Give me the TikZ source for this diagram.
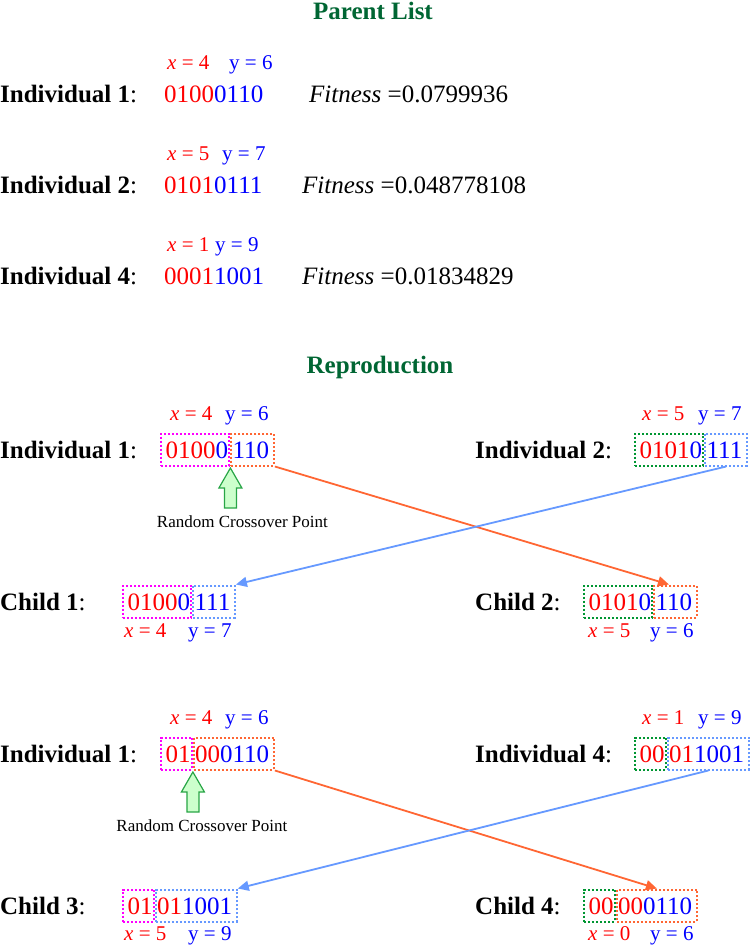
\documentclass[tikz,border=0pt]{standalone}
\usepackage{fontspec}
\setmainfont{Liberation Serif}
\usepackage{xcolor}
\usetikzlibrary{arrows.meta,positioning,calc}

\definecolor{xred}{RGB}{255,0,0}
\definecolor{xblue}{RGB}{0,0,255}
\definecolor{titlegreen}{RGB}{0,102,51}
\definecolor{cutmag}{RGB}{255,0,255}
\definecolor{cutorange}{RGB}{255,102,51}
\definecolor{cutblue}{RGB}{102,153,255}
\definecolor{cutgreen}{RGB}{0,150,50}
\definecolor{pointline}{RGB}{40,165,70}
\definecolor{pointfill}{RGB}{204,255,204}

\begin{document}
\begin{tikzpicture}[
    x=1pt, y=-1pt,
    word/.style={inner sep=0pt, anchor=base west, font=\fontsize{25}{30}\selectfont},
    val/.style={inner sep=0pt, anchor=base west, font=\fontsize{21}{25}\selectfont},
    heading/.style={inner sep=0pt, anchor=base, font=\fontsize{25}{30}\selectfont\bfseries, text=titlegreen},
    seg/.style={draw, dash pattern=on 2pt off 2pt, line width=2pt, inner xsep=1.2pt, inner ysep=7.5pt,
      text height=17pt, text depth=0pt, font=\fontsize{25}{30}\selectfont},
    lseg/.style={seg, execute at begin node={\kern3.5pt}},
    rseg/.style={seg, execute at end node={\kern3.5pt}},
    swap/.style={-{Triangle[length=11pt,width=10pt]}, line width=1.8pt},
    point/.style={draw=pointline, fill=pointfill, line width=1.2pt},
    note/.style={inner sep=0pt, anchor=base, font=\fontsize{17}{20}\selectfont}
  ]
    \useasboundingbox (0,0) rectangle (750,945);

    % parent list
    \node[heading] (plist) at (373,19) {Parent List};

    \node[val, text=xred] (x1) at (167,69) {\textit{x} = 4};
    \node[val, text=xblue] (y1) at (229,69) {y = 6};
    \node[word] (ind1) at (0,102) {\textbf{Individual 1}:};
    \node[word] (bits1) at (164,102) {\textcolor{xred}{0100}\textcolor{xblue}{0110}};
    \node[word] (fit1) at (309,102) {\textit{Fitness} =0.0799936};

    \node[val, text=xred] (x2) at (167,160) {\textit{x} = 5};
    \node[val, text=xblue] (y2) at (222,160) {y = 7};
    \node[word] (ind2) at (0,193) {\textbf{Individual 2}:};
    \node[word] (bits2) at (164,193) {\textcolor{xred}{0101}\textcolor{xblue}{0111}};
    \node[word] (fit2) at (302,193) {\textit{Fitness} =0.048778108};

    \node[val, text=xred] (x4) at (167,251) {\textit{x} = 1};
    \node[val, text=xblue] (y4) at (215,251) {y = 9};
    \node[word] (ind4) at (0,284) {\textbf{Individual 4}:};
    \node[word] (bits4) at (164,284) {\textcolor{xred}{0001}\textcolor{xblue}{1001}};
    \node[word] (fit4) at (302,284) {\textit{Fitness} =0.01834829};

    % reproduction
    \node[heading] (repro) at (380,373) {Reproduction};

    % first pair
    \node[val, text=xred] (px1) at (170,420) {\textit{x} = 4};
    \node[val, text=xblue] (py1) at (225,420) {y = 6};
    \node[word] (pl1) at (0,458) {\textbf{Individual 1}:};
    \node[lseg, draw=cutmag, anchor=base west] (p1a) at (160,458) {\textcolor{xred}{0100}\textcolor{xblue}{0}};
    \node[rseg, draw=cutorange, right=0pt of p1a] (p1b) {\textcolor{xblue}{110}};
    \draw[point] ([yshift=-1.5pt]p1a.south east) -- ++(11.5,20) -- ++(-5.5,0) -- ++(0,20)
      -- ++(-12,0) -- ++(0,-20) -- ++(-5.5,0) -- cycle;
    \node[note] (rc1) at ($(p1a.south east)+(12,61)$) {Random Crossover Point};

    \node[val, text=xred] (px2) at (642,420) {\textit{x} = 5};
    \node[val, text=xblue] (py2) at (698,420) {y = 7};
    \node[word] (pl2) at (475,458) {\textbf{Individual 2}:};
    \node[lseg, draw=cutgreen, anchor=base west] (p2a) at (634,458) {\textcolor{xred}{0101}\textcolor{xblue}{0}};
    \node[rseg, draw=cutblue, right=0pt of p2a] (p2b) {\textcolor{xblue}{111}};

    \node[word] (cl1) at (0,610) {\textbf{Child 1}:};
    \node[lseg, draw=cutmag, anchor=base west] (c1a) at (122,610) {\textcolor{xred}{0100}\textcolor{xblue}{0}};
    \node[rseg, draw=cutblue, right=0pt of c1a] (c1b) {\textcolor{xblue}{111}};
    \node[val, text=xred] (cx1) at (124,637) {\textit{x} = 4};
    \node[val, text=xblue] (cy1) at (188,637) {y = 7};

    \node[word] (cl2) at (475,610) {\textbf{Child 2}:};
    \node[lseg, draw=cutgreen, anchor=base west] (c2a) at (583,610) {\textcolor{xred}{0101}\textcolor{xblue}{0}};
    \node[rseg, draw=cutorange, right=0pt of c2a] (c2b) {\textcolor{xblue}{110}};
    \node[val, text=xred] (cx2) at (588,637) {\textit{x} = 5};
    \node[val, text=xblue] (cy2) at (650,637) {y = 6};

    \draw[swap, cutorange] (p1b.south east) -- ($(c2b.north west)!0.35!(c2b.north east)$);
    \draw[swap, cutblue] (p2b.south) -- (c1b.north east);

    % second pair
    \node[val, text=xred] (qx1) at (170,724) {\textit{x} = 4};
    \node[val, text=xblue] (qy1) at (225,724) {y = 6};
    \node[word] (ql1) at (0,762) {\textbf{Individual 1}:};
    \node[lseg, draw=cutmag, anchor=base west] (q1a) at (160,762) {\textcolor{xred}{01}};
    \node[rseg, draw=cutorange, right=0pt of q1a] (q1b) {\textcolor{xred}{00}\textcolor{xblue}{0110}};
    \draw[point] ([yshift=-1.5pt]q1a.south east) -- ++(11.5,20) -- ++(-5.5,0) -- ++(0,20)
      -- ++(-12,0) -- ++(0,-20) -- ++(-5.5,0) -- cycle;
    \node[note] (rc2) at ($(q1a.south east)+(9,61)$) {Random Crossover Point};

    \node[val, text=xred] (qx4) at (642,724) {\textit{x} = 1};
    \node[val, text=xblue] (qy4) at (698,724) {y = 9};
    \node[word] (ql4) at (475,762) {\textbf{Individual 4}:};
    \node[lseg, draw=cutgreen, anchor=base west] (q4a) at (634,762) {\textcolor{xred}{00}};
    \node[rseg, draw=cutblue, right=0pt of q4a] (q4b) {\textcolor{xred}{01}\textcolor{xblue}{1001}};

    \node[word] (cl3) at (0,914) {\textbf{Child 3}:};
    \node[lseg, draw=cutmag, anchor=base west] (c3a) at (122,914) {\textcolor{xred}{01}};
    \node[rseg, draw=cutblue, right=0pt of c3a] (c3b) {\textcolor{xred}{01}\textcolor{xblue}{1001}};
    \node[val, text=xred] (cx3) at (124,940) {\textit{x} = 5};
    \node[val, text=xblue] (cy3) at (188,940) {y = 9};

    \node[word] (cl4) at (475,914) {\textbf{Child 4}:};
    \node[lseg, draw=cutgreen, anchor=base west] (c4a) at (583,914) {\textcolor{xred}{00}};
    \node[rseg, draw=cutorange, right=0pt of c4a] (c4b) {\textcolor{xred}{00}\textcolor{xblue}{0110}};
    \node[val, text=xred] (cx4) at (588,940) {\textit{x} = 0};
    \node[val, text=xblue] (cy4) at (650,940) {y = 6};

    \draw[swap, cutorange] (q1b.south east) -- (c4b.north);
    \draw[swap, cutblue] (q4b.south) -- (c3b.north east);
  \end{tikzpicture}
\end{document}
